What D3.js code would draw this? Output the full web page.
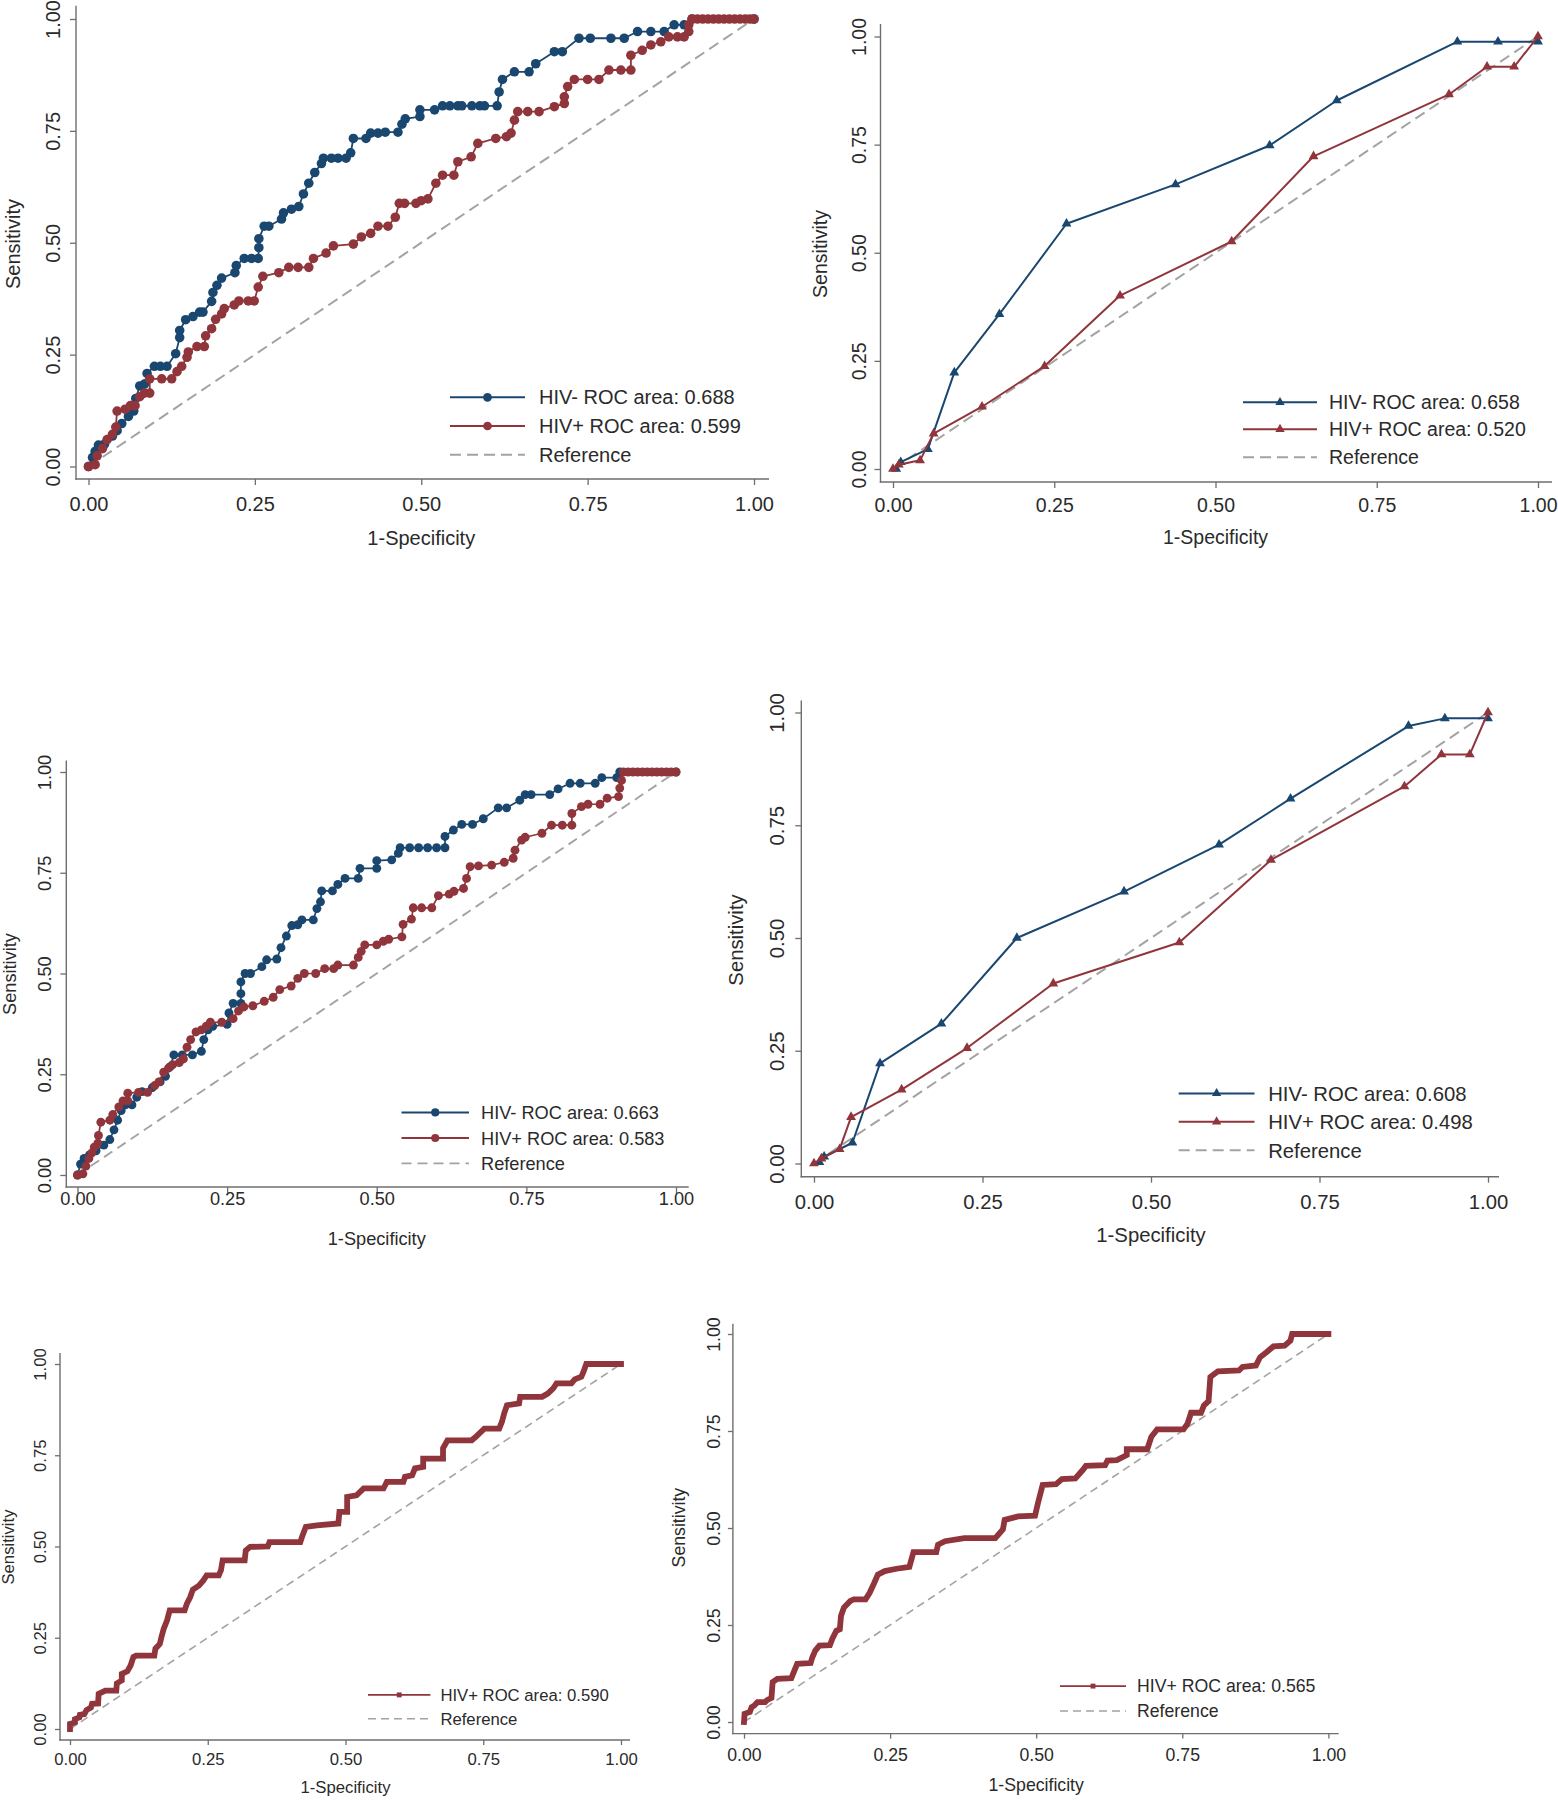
<!DOCTYPE html>
<html><head><meta charset="utf-8">
<script src="https://cdn.jsdelivr.net/npm/d3@7"></script>
<style>body{margin:0;background:#fff;} svg{display:block;}</style>
</head><body>
<svg id="c" width="1558" height="1800"></svg>
<script>
// ---------- shared labels ----------
const tickValues = [0, 0.25, 0.5, 0.75, 1];
const tickLabels = ["0.00", "0.25", "0.50", "0.75", "1.00"];
const xTitle = "1-Specificity";
const yTitle = "Sensitivity";

// ---------- panel 1 (circles) ----------
const p1Labels = ["HIV- ROC area: 0.688", "HIV+ ROC area: 0.599", "Reference"];
const p1Neg = [[0,0],[0.006,0.02],[0.01,0.034],[0.015,0.048],[0.024,0.05],[0.036,0.068],[0.043,0.08],[0.05,0.096],[0.06,0.112],[0.068,0.124],[0.071,0.152],[0.077,0.18],[0.084,0.184],[0.088,0.208],[0.099,0.224],[0.108,0.224],[0.118,0.224],[0.131,0.252],[0.137,0.288],[0.137,0.304],[0.146,0.328],[0.157,0.335],[0.167,0.345],[0.172,0.345],[0.185,0.369],[0.187,0.389],[0.193,0.405],[0.2,0.421],[0.22,0.433],[0.222,0.449],[0.234,0.465],[0.245,0.465],[0.255,0.465],[0.256,0.489],[0.256,0.509],[0.264,0.537],[0.271,0.537],[0.29,0.553],[0.293,0.567],[0.305,0.575],[0.316,0.581],[0.323,0.609],[0.331,0.633],[0.34,0.657],[0.35,0.677],[0.353,0.689],[0.365,0.689],[0.375,0.689],[0.387,0.689],[0.394,0.701],[0.398,0.733],[0.417,0.733],[0.424,0.745],[0.435,0.745],[0.446,0.747],[0.465,0.747],[0.471,0.765],[0.476,0.777],[0.498,0.782],[0.498,0.797],[0.52,0.797],[0.532,0.806],[0.543,0.806],[0.555,0.806],[0.561,0.806],[0.576,0.806],[0.588,0.806],[0.595,0.806],[0.614,0.806],[0.617,0.837],[0.622,0.865],[0.64,0.882],[0.662,0.882],[0.672,0.9],[0.7,0.927],[0.712,0.927],[0.737,0.957],[0.754,0.957],[0.785,0.957],[0.805,0.957],[0.825,0.972],[0.845,0.972],[0.865,0.972],[0.88,0.987],[0.895,0.987],[0.907,1],[1,1]];
const p1Pos = [[0,0],[0.01,0.004],[0.013,0.024],[0.021,0.04],[0.028,0.06],[0.036,0.072],[0.041,0.088],[0.043,0.124],[0.055,0.128],[0.063,0.136],[0.07,0.136],[0.077,0.156],[0.084,0.164],[0.092,0.164],[0.092,0.196],[0.11,0.196],[0.125,0.196],[0.133,0.212],[0.14,0.224],[0.148,0.244],[0.15,0.256],[0.163,0.268],[0.174,0.268],[0.176,0.292],[0.185,0.308],[0.191,0.329],[0.2,0.341],[0.204,0.353],[0.219,0.361],[0.226,0.37],[0.24,0.37],[0.249,0.37],[0.255,0.401],[0.262,0.425],[0.286,0.433],[0.301,0.445],[0.315,0.445],[0.331,0.445],[0.338,0.465],[0.357,0.477],[0.368,0.493],[0.398,0.497],[0.41,0.513],[0.424,0.521],[0.435,0.537],[0.45,0.537],[0.461,0.557],[0.467,0.588],[0.475,0.588],[0.492,0.588],[0.5,0.594],[0.51,0.598],[0.522,0.633],[0.532,0.651],[0.549,0.651],[0.555,0.681],[0.575,0.692],[0.585,0.722],[0.612,0.733],[0.628,0.737],[0.635,0.745],[0.64,0.774],[0.645,0.793],[0.66,0.793],[0.677,0.793],[0.7,0.804],[0.715,0.811],[0.715,0.826],[0.72,0.849],[0.73,0.865],[0.75,0.865],[0.767,0.865],[0.782,0.886],[0.8,0.886],[0.815,0.886],[0.815,0.919],[0.832,0.93],[0.845,0.942],[0.86,0.949],[0.872,0.96],[0.885,0.96],[0.895,0.96],[0.902,0.972],[0.902,0.987],[0.907,1],[0.915,1],[0.923,1],[0.931,1],[0.939,1],[0.947,1],[0.955,1],[0.963,1],[0.971,1],[0.979,1],[0.987,1],[0.994,1],[1,1]];

// ---------- panel 2 (triangles) ----------
const p2Labels = ["HIV- ROC area: 0.658", "HIV+ ROC area: 0.520", "Reference"];
const p2Neg = [[0.005,0],[0.012,0.016],[0.054,0.046],[0.095,0.223],[0.165,0.358],[0.269,0.567],[0.438,0.658],[0.584,0.748],[0.688,0.852],[0.875,0.988],[0.938,0.988],[1,0.988]];
const p2Pos = [[0,0],[0.009,0.01],[0.042,0.02],[0.063,0.082],[0.138,0.144],[0.235,0.238],[0.352,0.401],[0.525,0.526],[0.652,0.723],[0.862,0.866],[0.921,0.93],[0.963,0.93],[1,1]];

// ---------- panel 3 (circles) ----------
const p3Labels = ["HIV- ROC area: 0.663", "HIV+ ROC area: 0.583", "Reference"];
const p3Neg = [[0,0],[0.005,0.027],[0.011,0.041],[0.02,0.05],[0.031,0.06],[0.044,0.074],[0.054,0.088],[0.061,0.112],[0.067,0.136],[0.073,0.16],[0.08,0.174],[0.091,0.174],[0.099,0.193],[0.108,0.207],[0.125,0.217],[0.138,0.231],[0.147,0.245],[0.155,0.269],[0.161,0.298],[0.175,0.298],[0.192,0.298],[0.207,0.307],[0.211,0.336],[0.218,0.36],[0.226,0.369],[0.25,0.374],[0.253,0.402],[0.26,0.426],[0.273,0.426],[0.273,0.45],[0.273,0.479],[0.28,0.5],[0.289,0.5],[0.308,0.517],[0.316,0.534],[0.333,0.536],[0.34,0.564],[0.349,0.593],[0.358,0.619],[0.368,0.621],[0.375,0.633],[0.394,0.633],[0.4,0.661],[0.406,0.678],[0.408,0.705],[0.426,0.705],[0.435,0.721],[0.447,0.736],[0.469,0.736],[0.472,0.761],[0.5,0.761],[0.5,0.78],[0.525,0.782],[0.536,0.798],[0.539,0.812],[0.555,0.812],[0.57,0.812],[0.585,0.812],[0.6,0.812],[0.614,0.812],[0.614,0.84],[0.628,0.856],[0.642,0.87],[0.66,0.87],[0.678,0.884],[0.703,0.911],[0.717,0.911],[0.739,0.93],[0.748,0.944],[0.758,0.944],[0.789,0.944],[0.803,0.958],[0.823,0.972],[0.84,0.972],[0.865,0.972],[0.876,0.986],[0.901,0.986],[0.906,1],[1,1]];
const p3Pos = [[0,0],[0.009,0.003],[0.014,0.022],[0.019,0.041],[0.024,0.055],[0.028,0.069],[0.034,0.079],[0.035,0.098],[0.039,0.131],[0.054,0.136],[0.059,0.15],[0.069,0.169],[0.076,0.184],[0.084,0.184],[0.084,0.203],[0.102,0.205],[0.117,0.205],[0.129,0.222],[0.136,0.231],[0.144,0.255],[0.152,0.265],[0.159,0.274],[0.17,0.279],[0.177,0.288],[0.183,0.317],[0.189,0.336],[0.198,0.355],[0.207,0.36],[0.215,0.369],[0.222,0.379],[0.241,0.379],[0.26,0.388],[0.269,0.407],[0.278,0.417],[0.293,0.42],[0.312,0.431],[0.327,0.441],[0.338,0.46],[0.357,0.469],[0.368,0.488],[0.379,0.5],[0.398,0.5],[0.413,0.512],[0.428,0.512],[0.435,0.521],[0.461,0.521],[0.469,0.54],[0.474,0.555],[0.48,0.571],[0.5,0.571],[0.511,0.58],[0.52,0.585],[0.542,0.591],[0.544,0.622],[0.558,0.635],[0.561,0.663],[0.575,0.663],[0.592,0.663],[0.603,0.693],[0.621,0.697],[0.629,0.704],[0.645,0.711],[0.65,0.736],[0.656,0.765],[0.67,0.767],[0.692,0.769],[0.713,0.776],[0.728,0.786],[0.731,0.806],[0.742,0.831],[0.748,0.838],[0.776,0.848],[0.792,0.868],[0.81,0.868],[0.826,0.868],[0.826,0.897],[0.842,0.914],[0.853,0.92],[0.873,0.92],[0.885,0.935],[0.904,0.939],[0.906,0.96],[0.909,0.979],[0.912,1],[0.92,1],[0.928,1],[0.936,1],[0.944,1],[0.952,1],[0.96,1],[0.968,1],[0.976,1],[0.984,1],[0.992,1],[1,1]];

// ---------- panel 4 (triangles) ----------
const p4Labels = ["HIV- ROC area: 0.608", "HIV+ ROC area: 0.498", "Reference"];
const p4Neg = [[0.008,0.003],[0.015,0.015],[0.057,0.046],[0.098,0.222],[0.189,0.31],[0.301,0.5],[0.46,0.603],[0.601,0.707],[0.707,0.809],[0.882,0.97],[0.936,0.987],[1,0.987]];
const p4Pos = [[0,0],[0.011,0.011],[0.038,0.032],[0.055,0.103],[0.13,0.164],[0.227,0.256],[0.355,0.399],[0.542,0.49],[0.678,0.673],[0.876,0.836],[0.931,0.907],[0.973,0.907],[1,1]];

// ---------- panel 5 (HIV+ only) ----------
const p5Labels = ["HIV+ ROC area: 0.590", "Reference"];
const p5Pos = [[0,0],[0,0.014],[0.009,0.018],[0.009,0.027],[0.017,0.032],[0.018,0.039],[0.026,0.041],[0.03,0.052],[0.038,0.059],[0.04,0.069],[0.051,0.07],[0.052,0.096],[0.064,0.105],[0.084,0.105],[0.085,0.125],[0.094,0.133],[0.094,0.151],[0.104,0.158],[0.11,0.174],[0.115,0.197],[0.12,0.201],[0.153,0.201],[0.155,0.22],[0.163,0.233],[0.166,0.252],[0.17,0.274],[0.176,0.297],[0.181,0.325],[0.208,0.325],[0.212,0.343],[0.218,0.361],[0.223,0.382],[0.234,0.393],[0.242,0.407],[0.248,0.421],[0.27,0.421],[0.274,0.435],[0.277,0.462],[0.317,0.462],[0.319,0.489],[0.327,0.499],[0.359,0.5],[0.362,0.512],[0.418,0.512],[0.421,0.526],[0.428,0.554],[0.448,0.558],[0.487,0.563],[0.489,0.595],[0.503,0.595],[0.503,0.636],[0.52,0.64],[0.533,0.659],[0.569,0.659],[0.575,0.677],[0.605,0.677],[0.608,0.691],[0.621,0.695],[0.626,0.714],[0.641,0.718],[0.641,0.741],[0.677,0.741],[0.677,0.769],[0.685,0.791],[0.729,0.791],[0.736,0.8],[0.752,0.823],[0.779,0.823],[0.784,0.842],[0.788,0.865],[0.793,0.887],[0.815,0.892],[0.817,0.91],[0.857,0.91],[0.867,0.919],[0.877,0.933],[0.883,0.947],[0.91,0.947],[0.916,0.958],[0.928,0.965],[0.932,0.979],[0.937,1],[1,1]];

// ---------- panel 6 (HIV+ only) ----------
const p6Labels = ["HIV+ ROC area: 0.565", "Reference"];
const p6Pos = [[0,0],[0.001,0.021],[0.01,0.026],[0.013,0.038],[0.018,0.043],[0.023,0.051],[0.036,0.051],[0.039,0.056],[0.047,0.062],[0.049,0.103],[0.057,0.111],[0.081,0.113],[0.085,0.128],[0.091,0.15],[0.114,0.152],[0.117,0.167],[0.122,0.184],[0.129,0.197],[0.147,0.198],[0.151,0.214],[0.158,0.235],[0.164,0.239],[0.166,0.274],[0.171,0.295],[0.182,0.312],[0.188,0.316],[0.208,0.316],[0.215,0.333],[0.223,0.359],[0.229,0.38],[0.241,0.389],[0.261,0.395],[0.283,0.4],[0.29,0.438],[0.329,0.438],[0.332,0.457],[0.344,0.466],[0.377,0.474],[0.43,0.474],[0.443,0.496],[0.446,0.521],[0.469,0.53],[0.498,0.532],[0.503,0.564],[0.511,0.611],[0.534,0.613],[0.544,0.626],[0.567,0.628],[0.58,0.65],[0.585,0.66],[0.618,0.662],[0.622,0.674],[0.638,0.675],[0.655,0.688],[0.655,0.703],[0.69,0.703],[0.697,0.735],[0.707,0.754],[0.752,0.754],[0.759,0.769],[0.765,0.797],[0.782,0.797],[0.787,0.816],[0.795,0.827],[0.798,0.889],[0.811,0.904],[0.847,0.906],[0.853,0.915],[0.876,0.919],[0.883,0.94],[0.894,0.953],[0.906,0.968],[0.925,0.97],[0.935,0.983],[0.938,1],[1,1]];

// ---------- styling ----------
const NAVY = "#1a476f", MAROON = "#90353b", REFC = "#a3a3a3";
const AXC = "#6e6e6e", TXT = "#2a2a2a";
const FONT = "'Liberation Sans', Arial, Helvetica, sans-serif";

const svg = d3.select("#c");

function drawPanel(P) {
  const f = P.f;
  const g = svg.append("g").attr("font-family", FONT);
  const x = d3.scaleLinear().domain([0, 1]).range([P.x0, P.x1]);
  const y = d3.scaleLinear().domain([0, 1]).range([P.y0, P.y1]);

  g.append("line").attr("x1", P.axL).attr("x2", P.axL).attr("y1", P.axT).attr("y2", P.axB + 0.7)
    .attr("stroke", AXC).attr("stroke-width", 1.4);
  g.append("line").attr("x1", P.axL - 0.7).attr("x2", P.axR).attr("y1", P.axB).attr("y2", P.axB)
    .attr("stroke", AXC).attr("stroke-width", 1.4);

  const xa = g.append("g").attr("transform", `translate(0,${P.axB})`)
    .call(d3.axisBottom(x).tickValues(tickValues).tickFormat((d, i) => tickLabels[i]).tickSize(P.tick).tickSizeOuter(0));
  xa.select(".domain").remove();
  xa.selectAll(".tick line").attr("stroke", AXC).attr("stroke-width", 1.3);
  xa.selectAll(".tick text").attr("y", P.xTickY - P.axB + 0.358 * f).attr("dy", null)
    .attr("font-size", f).attr("font-family", FONT).attr("fill", TXT);

  const ya = g.append("g").attr("transform", `translate(${P.axL},0)`)
    .call(d3.axisLeft(y).tickValues(tickValues).tickFormat((d, i) => tickLabels[i]).tickSize(P.tick).tickSizeOuter(0));
  ya.select(".domain").remove();
  ya.selectAll(".tick line").attr("stroke", AXC).attr("stroke-width", 1.3);
  ya.selectAll(".tick text").attr("x", 0).attr("y", 0).attr("dy", null).attr("text-anchor", "middle")
    .attr("transform", `translate(${P.yTickX + 0.358 * f - P.axL},0) rotate(-90)`)
    .attr("font-size", f).attr("font-family", FONT).attr("fill", TXT);

  g.append("text").attr("x", (P.x0 + P.x1) / 2).attr("y", P.xTitleY + 0.25 * f)
    .attr("text-anchor", "middle").attr("font-size", f).attr("fill", TXT).text(xTitle);
  g.append("text").attr("transform", `translate(${P.yTitleX + 0.253 * f},${P.yTitleY}) rotate(-90)`)
    .attr("text-anchor", "middle").attr("font-size", f).attr("fill", TXT).text(yTitle);

  g.append("line").attr("x1", x(0)).attr("y1", y(0)).attr("x2", x(1)).attr("y2", y(1))
    .attr("stroke", REFC).attr("stroke-width", P.refW).attr("stroke-dasharray", P.dash);

  const line = d3.line().x(d => x(d[0])).y(d => y(d[1]));
  const symType = P.marker === "circle" ? d3.symbolCircle : (P.marker === "triangle" ? d3.symbolTriangle : d3.symbolSquare);

  P.series.forEach(s => {
    g.append("path").datum(s.data).attr("d", line).attr("fill", "none")
      .attr("stroke", s.color).attr("stroke-width", P.lineW)
      .attr("stroke-linejoin", P.marker === "square" ? "miter" : "round")
      .attr("stroke-linecap", P.marker === "square" ? "square" : "round");
    if (P.marker !== "square") {
      g.append("g").selectAll("path").data(s.data).join("path")
        .attr("transform", d => `translate(${x(d[0])},${y(d[1])})`)
        .attr("d", d3.symbol().type(symType).size(P.msize)).attr("fill", s.color);
    }
  });

  const L = P.leg;
  const items = P.series.map((s, i) => ({ color: s.color, label: P.labels[i], ref: false }))
    .concat([{ color: REFC, label: P.labels[P.labels.length - 1], ref: true }]);
  items.forEach((it, i) => {
    const ry = L.rows[i];
    const ln = g.append("line").attr("x1", L.lx0).attr("x2", L.lx1).attr("y1", ry).attr("y2", ry)
      .attr("stroke", it.color).attr("stroke-width", it.ref ? P.refW : L.lw);
    if (it.ref) ln.attr("stroke-dasharray", P.dash);
    else g.append("path").attr("transform", `translate(${(L.lx0 + L.lx1) / 2},${ry})`)
      .attr("d", d3.symbol().type(symType).size(L.msize)).attr("fill", it.color);
    g.append("text").attr("x", L.tx).attr("y", ry + 0.358 * f).attr("font-size", f)
      .attr("fill", TXT).text(it.label);
  });
}

const panels = [
  { x0: 88.5, x1: 754, y0: 466.5, y1: 19, axL: 76, axB: 479, axT: 5.7, axR: 769, tick: 6, f: 20,
    xTickY: 504.2, xTitleY: 540, yTickX: 52.5, yTitleX: 15, yTitleY: 244,
    marker: "circle", msize: 72, lineW: 1.8, refW: 2, dash: "11,6",
    series: [{ data: p1Neg, color: NAVY }, { data: p1Pos, color: MAROON }], labels: p1Labels,
    leg: { lx0: 450, lx1: 525, tx: 539, rows: [397.3, 426, 454.7], lw: 2, msize: 60 } },
  { x0: 893, x1: 1538, y0: 469, y1: 36.5, axL: 880.5, axB: 482, axT: 24, axR: 1552, tick: 6, f: 19.5,
    xTickY: 505.2, xTitleY: 539.3, yTickX: 859, yTitleX: 822, yTitleY: 254,
    marker: "triangle", msize: 42, lineW: 2, refW: 2, dash: "11,6",
    series: [{ data: p2Neg, color: NAVY }, { data: p2Pos, color: MAROON }], labels: p2Labels,
    leg: { lx0: 1243, lx1: 1317, tx: 1329, rows: [402.3, 429.2, 457.2], lw: 2, msize: 38 } },
  { x0: 77.5, x1: 676, y0: 1175, y1: 772, axL: 66.3, axB: 1187, axT: 760.5, axR: 688.7, tick: 6, f: 18.2,
    xTickY: 1198.7, xTitleY: 1240.8, yTickX: 44.8, yTitleX: 11.2, yTitleY: 974,
    marker: "circle", msize: 62, lineW: 1.7, refW: 1.9, dash: "10,6",
    series: [{ data: p3Neg, color: NAVY }, { data: p3Pos, color: MAROON }], labels: p3Labels,
    leg: { lx0: 401.5, lx1: 469, tx: 481, rows: [1112.4, 1138, 1163.4], lw: 2, msize: 52 } },
  { x0: 814, x1: 1488, y0: 1163.5, y1: 712.5, axL: 801.3, axB: 1176.7, axT: 700.4, axR: 1499, tick: 6, f: 20.3,
    xTickY: 1202, xTitleY: 1237, yTickX: 776.6, yTitleX: 738.2, yTitleY: 940,
    marker: "triangle", msize: 42, lineW: 2, refW: 2, dash: "11,6",
    series: [{ data: p4Neg, color: NAVY }, { data: p4Pos, color: MAROON }], labels: p4Labels,
    leg: { lx0: 1178.7, lx1: 1254.5, tx: 1268.2, rows: [1093.4, 1121.7, 1150.3], lw: 2, msize: 38 } },
  { x0: 70, x1: 621, y0: 1729, y1: 1364, axL: 60, axB: 1740, axT: 1353, axR: 630, tick: 5, f: 16.7,
    xTickY: 1759.5, xTitleY: 1788.4, yTickX: 39.7, yTitleX: 9.4, yTitleY: 1547,
    marker: "square", msize: 24, lineW: 5.8, refW: 1.6, dash: "8,5",
    series: [{ data: p5Pos, color: MAROON }], labels: p5Labels,
    leg: { lx0: 368, lx1: 430.4, tx: 440.4, rows: [1694.9, 1718.7], lw: 1.8, msize: 24 } },
  { x0: 744, x1: 1328.4, y0: 1722, y1: 1334, axL: 732.9, axB: 1733.6, axT: 1323.7, axR: 1338.7, tick: 5, f: 17.7,
    xTickY: 1754.8, xTitleY: 1786.3, yTickX: 714.1, yTitleX: 680.7, yTitleY: 1527.6,
    marker: "square", msize: 24, lineW: 5.8, refW: 1.6, dash: "8,5",
    series: [{ data: p6Pos, color: MAROON }], labels: p6Labels,
    leg: { lx0: 1060, lx1: 1126, tx: 1137, rows: [1686.1, 1711], lw: 1.8, msize: 24 } }
];

panels.forEach(drawPanel);
</script>
</body></html>
